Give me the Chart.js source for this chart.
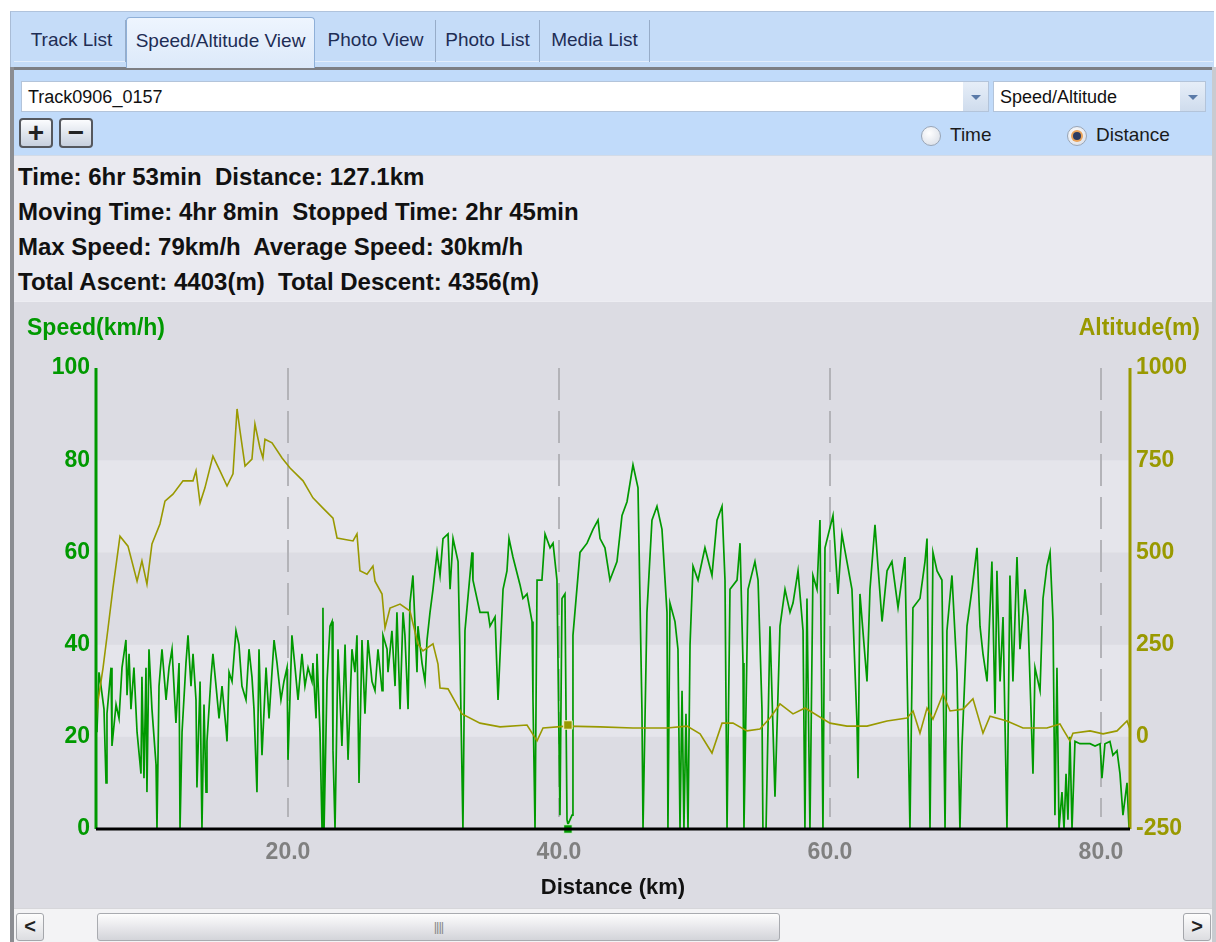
<!DOCTYPE html>
<html>
<head>
<meta charset="utf-8">
<script src="https://cdn.jsdelivr.net/npm/chart.js@4.4.1/dist/chart.umd.min.js"></script>
<style>
  body { margin: 0; width: 1216px; height: 942px; background: #fff; overflow: hidden;
         font-family: 'Liberation Sans', Arial, sans-serif; position: relative; }
  .abs { position: absolute; }
  #strip { left: 10px; top: 11px; width: 1203px; height: 58px; background: #c5dcf8;
           border-left: 1px solid #a9bcd6; border-top: 1px solid #b0c3dc; }
  .tab { position: absolute; top: 20px; height: 42px; line-height: 40px; text-align: center;
         font-size: 19px; color: #1e2d55; border-right: 1px solid #97acc8; box-sizing: border-box; }
  .tab.sel { top: 17px; height: 51px; background: linear-gradient(#eef5fe, #dce9fa);
             border: 1px solid #8fb0d8; border-bottom: none; border-radius: 4px 4px 0 0; line-height: 46px; }
  #tabline { left: 14px; top: 61px; width: 1199px; height: 1px; background: #e4eefb; }
  #panelTop { left: 10px; top: 67px; width: 1203px; height: 3px; background: #7d7f84; }
  #leftBorder { left: 10px; top: 67px; width: 4px; height: 875px; background: #8b8d92; }
  #rightBorder { left: 1212px; top: 67px; width: 4px; height: 875px; background: #c9cbd0; }
  #toolbar { left: 14px; top: 70px; width: 1198px; height: 85px; background: #c1dbfa; }
  .combo { position: absolute; top: 81px; height: 31px; background: #fff; border: 1px solid #b3c4da;
           box-sizing: border-box; font-size: 18px; line-height: 30px; padding-left: 6px; color: #111; }
  .drop { position: absolute; top: 0; right: 0; width: 25px; height: 29px; background: linear-gradient(#e6eef8, #cfdced); }
  .drop:after { content: ''; position: absolute; left: 8px; top: 13px; border-left: 5px solid transparent;
                border-right: 5px solid transparent; border-top: 5px solid #5a7aa8; }
  .pm { position: absolute; top: 118px; width: 34px; height: 30px; border: 2px solid #55585e; border-radius: 4px;
        background: linear-gradient(#fbfcfe, #c7d0de); box-sizing: border-box; text-align: center;
        font-weight: bold; font-size: 28px; line-height: 26px; color: #222; }
  .radio { position: absolute; top: 126px; width: 20px; height: 20px; border-radius: 50%; border: 1px solid #9aa6b6;
           background: radial-gradient(circle at 40% 35%, #ffffff, #d4dae4); box-sizing: border-box; }
  .radio.on:after { content: ''; position: absolute; left: 5px; top: 5px; width: 8px; height: 8px; border-radius: 50%;
                    background: #2b3c63; box-shadow: 0 0 0 2px #e9a35a; }
  .rlabel { position: absolute; top: 124px; font-size: 19px; color: #1a1a1a; }
  #stats { left: 14px; top: 155px; width: 1198px; height: 146px; background: #eaeaf0; border-top: 1px solid #d2dbe8; }
  .st { position: absolute; left: 4px; font-weight: bold; font-size: 24px; color: #111; white-space: pre; }
  #chartBox { left: 14px; top: 301px; width: 1198px; height: 607px; background: #dcdce3; border-top: 1px solid #ededf2; }
  canvas { position: absolute; left: 0; top: -1px; }
  .axTitle { position: absolute; top: 12px; font-weight: bold; font-size: 23px; }
  #scroll { left: 14px; top: 908px; width: 1198px; height: 34px; background: #f3f3f5; border-top: 1px solid #d6d6da; }
  .sbtn { position: absolute; top: 4px; width: 28px; height: 28px; border: 1px solid #a4a6ab; border-radius: 3px;
          background: linear-gradient(#fdfdfd, #dcdde1); box-sizing: border-box; font-weight: bold; font-size: 20px;
          line-height: 25px; text-align: center; color: #222; }
  #thumb { left: 83px; top: 4px; width: 683px; height: 28px; border: 1px solid #a9abb0; border-radius: 3px;
           background: linear-gradient(#fdfdfd, #e6e6ea 55%, #d3d4d9); box-sizing: border-box;
           text-align: center; font-size: 13px; line-height: 26px; color: #8a8a8a; letter-spacing: -1px; }
</style>
</head>
<body>
<div id="strip" class="abs"></div>
<div id="tabline" class="abs"></div>
<div class="tab" style="left:18px;width:108px">Track List</div>
<div class="tab" style="left:436px;width:104px">Photo List</div>
<div class="tab" style="left:540px;width:110px">Media List</div>
<div class="tab" style="left:316px;width:120px">Photo View</div>
<div id="panelTop" class="abs"></div>
<div class="tab sel" style="left:126px;width:189px">Speed/Altitude View</div>
<div id="leftBorder" class="abs"></div>
<div id="rightBorder" class="abs"></div>
<div id="toolbar" class="abs"></div>
<div class="combo" style="left:21px;width:968px">Track0906_0157<div class="drop"></div></div>
<div class="combo" style="left:993px;width:213px">Speed/Altitude<div class="drop"></div></div>
<div class="pm" style="left:19px">+</div>
<div class="pm" style="left:59px">&minus;</div>
<div class="radio" style="left:921px"></div>
<div class="rlabel" style="left:950px">Time</div>
<div class="radio on" style="left:1067px"></div>
<div class="rlabel" style="left:1096px">Distance</div>

<div id="stats" class="abs">
  <div class="st" style="top:7px">Time: 6hr 53min  Distance: 127.1km</div>
  <div class="st" style="top:42px">Moving Time: 4hr 8min  Stopped Time: 2hr 45min</div>
  <div class="st" style="top:77px">Max Speed: 79km/h  Average Speed: 30km/h</div>
  <div class="st" style="top:112px">Total Ascent: 4403(m)  Total Descent: 4356(m)</div>
</div>

<div id="chartBox" class="abs">
  <canvas id="chart" width="1198" height="608"></canvas>
  <div class="axTitle" style="left:13px;color:#009900">Speed(km/h)</div>
  <div class="axTitle" style="right:12px;color:#999900">Altitude(m)</div>
</div>

<div id="scroll" class="abs">
  <div class="sbtn" style="left:2px">&lt;</div>
  <div id="thumb" class="abs">||||</div>
  <div class="sbtn" style="left:1169px">&gt;</div>
</div>

<script>
// speed trace: distance (km) / speed (km/h)
const speedKm = [5.83,5.90,6.05,6.20,6.42,6.57,6.64,6.94,7.01,7.31,7.53,7.75,8.04,8.12,8.27,8.41,8.63,8.86,9.15,9.22,
  9.37,9.52,9.59,9.74,9.96,10.26,10.33,10.48,10.70,11.00,11.22,11.44,11.73,11.96,12.03,12.18,12.47,12.62,12.84,12.99,
  13.21,13.28,13.51,13.65,13.80,13.95,14.02,14.32,14.46,14.69,14.91,15.13,15.42,15.50,15.65,15.87,16.16,16.38,16.60,16.90,
  17.12,17.34,17.49,17.71,17.86,18.08,18.38,18.60,18.97,19.19,19.48,19.70,19.93,20.00,20.29,20.52,20.74,21.03,21.25,21.48,
  21.77,21.84,22.07,22.14,22.36,22.51,22.58,22.66,22.88,23.10,23.25,23.32,23.47,23.69,23.98,24.21,24.43,24.72,24.94,25.09,
  25.24,25.46,25.68,25.90,26.20,26.42,26.64,26.94,27.01,27.31,27.38,27.67,27.90,28.04,28.27,28.49,28.63,28.86,29.00,29.22,
  29.52,29.59,29.89,30.11,30.26,30.48,30.70,31.00,31.22,31.44,31.81,31.96,32.18,32.55,32.69,32.91,33.06,33.58,33.65,34.17,
  34.76,34.91,35.28,35.50,35.87,36.16,36.31,36.60,37.12,37.34,37.64,38.01,38.08,38.23,38.38,38.74,38.97,39.34,39.56,39.85,
  40.07,40.22,40.44,40.59,40.66,40.96,41.03,41.55,42.07,42.51,42.88,43.03,43.39,43.76,44.28,44.65,45.02,45.46,45.83,46.12,
  46.20,46.49,46.86,47.23,47.60,47.97,48.04,48.19,48.56,48.78,48.93,49.08,49.22,49.37,49.52,49.67,49.89,50.26,50.77,51.29,
  51.66,52.03,52.25,52.40,52.62,53.14,53.36,53.58,53.65,53.95,54.46,54.69,54.98,55.05,55.28,55.57,55.94,56.31,56.68,57.05,
  57.27,57.64,58.01,58.15,58.30,58.52,58.74,59.04,59.26,59.48,59.63,60.22,60.59,60.88,61.25,61.62,61.99,62.07,62.21,62.73,
  62.95,63.32,63.54,63.84,64.21,64.57,65.02,65.53,65.90,66.12,66.64,67.01,67.16,67.38,67.60,67.90,68.26,68.49,68.63,69.00,
  69.37,69.59,69.74,70.11,70.48,70.85,71.07,71.29,71.59,71.95,72.18,72.32,72.55,72.77,73.06,73.28,73.50,73.80,74.02,74.39,
  74.61,74.98,75.13,75.50,75.72,76.01,76.24,76.46,76.60,76.75,76.90,77.12,77.27,77.42,77.56,77.71,77.86,78.08,78.45,79.19,
  79.56,79.93,80.07,80.29,80.66,80.88,81.18,81.40,81.62,81.92,82.07];
const speedKmh = [28,21,34,31,26,10,25,35,18,27,24,35,41,29,38,26,35,21,12,33,
  11,35,8,39,26,14,0,31,39,28,35,39,23,36,0,21,36,42,31,38,
  28,9,32,0,27,8,19,33,38,31,24,31,22,19,34,32,43,40,31,28,
  39,33,26,8,39,16,35,24,41,36,28,32,35,15,42,35,28,38,31,35,
  32,36,24,38,21,0,48,0,32,44,45,17,0,39,18,40,15,39,34,42,
  10,41,25,41,32,30,39,30,42,39,34,43,31,47,26,47,42,26,49,55,
  34,44,36,32,41,47,52,60,55,63,64,52,63,58,38,0,43,60,54,47,
  47,44,46,28,52,56,63,59,53,50,51,45,28,0,54,54,64,61,62,54,
  3,50,51,2,1,3,42,60,62,65,67,63,61,54,58,68,71,79,74,26,
  0,47,67,70,65,47,0,49,45,39,0,30,0,25,0,40,57,54,61,55,
  67,70,54,0,52,54,62,36,0,52,58,54,26,0,0,44,7,44,52,47,
  49,56,43,0,50,0,55,52,67,0,61,68,51,64,58,52,23,11,51,32,
  52,66,57,45,56,58,48,59,0,48,50,58,63,0,60,56,54,0,43,55,
  34,0,18,44,52,61,44,38,32,58,25,56,32,46,0,55,32,59,39,52,
  46,12,35,30,50,57,60,45,3,35,0,8,0,12,2,20,0,19,18.5,18.5,
  18,18.5,11,18.5,19,16,17,12,3,10,0];

// altitude trace: distance (km) / altitude (m)
const altKm = [5.83,5.98,6.35,6.72,7.08,7.60,8.19,8.86,9.22,9.59,9.96,10.55,10.92,11.51,12.25,12.99,13.21,13.51,13.87,14.46,
  14.98,15.50,15.94,16.24,16.46,16.83,17.34,17.56,17.93,18.15,18.30,18.82,19.56,20.15,21.11,21.84,22.58,23.32,23.62,24.80,
  25.09,25.31,25.83,26.27,26.42,26.94,27.16,27.53,28.27,29.00,29.59,29.96,30.70,31.07,31.22,31.81,32.84,34.17,35.65,37.64,
  38.38,38.82,40.59,43.03,45.46,47.97,49.45,50.41,51.29,52.03,52.84,53.87,54.83,55.57,56.31,57.27,58.16,60.00,61.25,62.73,
  64.21,65.68,66.13,66.64,67.16,67.60,68.34,68.86,69.82,70.55,71.29,71.81,73.06,74.24,76.01,76.97,77.19,77.71,77.93,79.19,
  80.15,81.18,81.92,82.14];
const altM = [40,97,187,295,403,544,517,422,477,414,523,577,639,658,694,694,721,634,675,761,
  721,680,713,889,829,734,753,848,783,756,807,797,756,729,694,648,620,593,539,531,
  550,450,441,463,422,387,295,349,360,341,252,233,252,197,132,130,62,37,27,32,
  -11,24,29,27,24,24,29,8,-44,37,37,16,21,51,89,62,78,37,29,29,
  43,51,70,10,78,48,116,70,75,103,10,56,43,24,24,35,21,-11,10,16,
  8,16,43,21];

// cursor position on the track
const cursorKm = 40.66;
const cursorSpeed = 0;
const cursorAlt = 32;

const xRange = [5.83, 82.14];
const xTicks = [20, 40, 60, 80];
const speedTicks = [0, 20, 40, 60, 80, 100];
const altTicks = [-250, 0, 250, 500, 750, 1000];

const GREEN = '#009900';
const OLIVE = '#999900';

Chart.defaults.font.family = "'Liberation Sans', Arial, sans-serif";

const tickFont = { size: 23, weight: 'bold' };

// background bands, dashed grid and axis lines
const panelDeco = {
  id: 'panelDeco',
  beforeDatasetsDraw(chart) {
    const { ctx, chartArea: a, scales: { x, y } } = chart;
    ctx.save();
    for (let i = 0; i < speedTicks.length - 1; i++) {
      const top = y.getPixelForValue(speedTicks[i + 1]);
      const bot = y.getPixelForValue(speedTicks[i]);
      ctx.fillStyle = i % 2 ? '#e5e5eb' : '#dcdce3';
      ctx.fillRect(a.left, top, a.right - a.left, bot - top);
    }
    ctx.setLineDash([32, 11]);
    ctx.strokeStyle = '#b3b3b8';
    ctx.lineWidth = 2;
    xTicks.forEach(v => {
      const px = Math.round(x.getPixelForValue(v));
      ctx.beginPath();
      ctx.moveTo(px, a.top);
      ctx.lineTo(px, a.bottom - 12);
      ctx.stroke();
    });
    ctx.restore();
  },
  afterDatasetsDraw(chart) {
    const { ctx, chartArea: a } = chart;
    ctx.save();
    ctx.lineWidth = 3;
    ctx.strokeStyle = GREEN;
    ctx.beginPath(); ctx.moveTo(a.left, a.top); ctx.lineTo(a.left, a.bottom); ctx.stroke();
    ctx.strokeStyle = OLIVE;
    ctx.beginPath(); ctx.moveTo(a.right, a.top); ctx.lineTo(a.right, a.bottom); ctx.stroke();
    ctx.strokeStyle = '#000';
    ctx.beginPath(); ctx.moveTo(a.left, a.bottom); ctx.lineTo(a.right, a.bottom); ctx.stroke();
    ctx.restore();
  }
};

new Chart(document.getElementById('chart'), {
  type: 'line',
  data: {
    datasets: [
      {
        label: 'cursor',
        type: 'scatter',
        data: [{ x: cursorKm, y: cursorAlt }],
        yAxisID: 'y1',
        pointStyle: 'rect',
        pointRadius: 6,
        backgroundColor: OLIVE,
        borderColor: '#f4f4d0',
        borderWidth: 1,
        order: 0
      },
      {
        label: 'cursor speed',
        type: 'scatter',
        data: [{ x: cursorKm, y: cursorSpeed }],
        yAxisID: 'y',
        pointStyle: 'rect',
        pointRadius: 6,
        backgroundColor: GREEN,
        borderColor: '#d8f0d8',
        borderWidth: 1,
        clip: false,
        order: 0
      },
      {
        label: 'Altitude',
        data: altKm.map((d, i) => ({ x: d, y: altM[i] })),
        yAxisID: 'y1',
        borderColor: OLIVE,
        borderWidth: 1.6,
        pointRadius: 0,
        tension: 0,
        order: 1
      },
      {
        label: 'Speed',
        data: speedKm.map((d, i) => ({ x: d, y: speedKmh[i] })),
        yAxisID: 'y',
        borderColor: GREEN,
        borderWidth: 1.7,
        pointRadius: 0,
        tension: 0,
        order: 2
      }
    ]
  },
  options: {
    responsive: false,
    animation: false,
    layout: { padding: { top: 67, left: 0, right: 0, bottom: 0 } },
    plugins: { legend: { display: false }, tooltip: { enabled: false } },
    scales: {
      x: {
        type: 'linear',
        min: xRange[0],
        max: xRange[1],
        afterBuildTicks: s => { s.ticks = xTicks.map(v => ({ value: v })); },
        afterFit: s => { s.height = 80; },
        grid: { display: false, drawTicks: false },
        border: { display: false },
        ticks: { color: '#808080', font: tickFont, padding: 10, callback: v => v.toFixed(1) },
        title: { display: true, text: 'Distance (km)', color: '#111', font: { size: 22, weight: 'bold' }, padding: { top: 4, bottom: 8 } }
      },
      y: {
        position: 'left',
        min: 0,
        max: 100,
        afterBuildTicks: s => { s.ticks = speedTicks.map(v => ({ value: v })); },
        afterFit: s => { s.width = 82; },
        grid: { display: false, drawTicks: false },
        border: { display: false },
        ticks: { color: GREEN, font: tickFont, padding: 6, callback: v => String(v) }
      },
      y1: {
        position: 'right',
        min: -250,
        max: 1000,
        afterBuildTicks: s => { s.ticks = altTicks.map(v => ({ value: v })); },
        afterFit: s => { s.width = 82; },
        grid: { display: false, drawTicks: false },
        border: { display: false },
        ticks: { color: OLIVE, font: tickFont, padding: 6, callback: v => String(v) }
      }
    }
  },
  plugins: [panelDeco]
});
</script>
</body>
</html>
